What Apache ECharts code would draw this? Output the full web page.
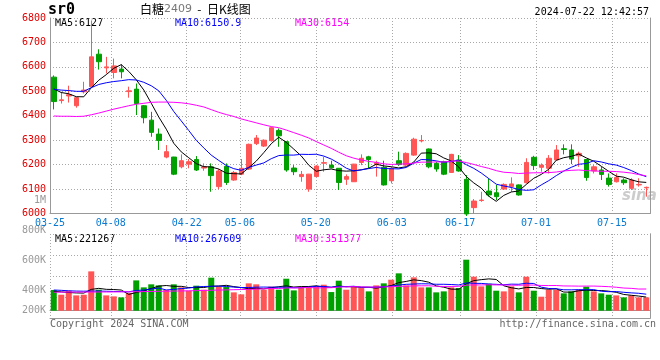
<!DOCTYPE html>
<html><head><meta charset="utf-8">
<script src="https://cdn.jsdelivr.net/npm/echarts@6/dist/echarts.min.js"></script>
<style>html,body{margin:0;padding:0;background:#fff}#c{width:660px;height:360px}</style>
</head><body><div id="c"></div>
<script>
const dates = ['03-25','03-26','03-27','03-28','03-29','04-01','04-02','04-03','04-08','04-09','04-10','04-11','04-12','04-15','04-16','04-17','04-18','04-19','04-22','04-23','04-24','04-25','04-26','04-29','04-30','05-06','05-07','05-08','05-09','05-10','05-13','05-14','05-15','05-16','05-17','05-20','05-21','05-22','05-23','05-24','05-27','05-28','05-29','05-30','05-31','06-03','06-04','06-05','06-06','06-07','06-11','06-12','06-13','06-14','06-17','06-18','06-19','06-20','06-21','06-24','06-25','06-26','06-27','06-28','07-01','07-02','07-03','07-04','07-05','07-08','07-09','07-10','07-11','07-12','07-15','07-16','07-17','07-18','07-19','07-22'];
const dateTicks = ['03-25','04-08','04-22','05-06','05-20','06-03','06-17','07-01','07-15'];

const opens = [6558,6462,6481,6441,6498,6519,6652,6596,6577,6591, 6499,6509,6441,6382,6325,6231,6231,6191,6202,6221, 6186,6191,6110,6193,6137,6161,6182,6286,6276,6298, 6340,6294,6186,6151,6100,6151,6206,6198,6185,6140, 6130,6209,6232,6202,6189,6134,6216,6198,6239,6297, 6264,6205,6212,6168,6219,6140,6024,6053,6092,6085, 6100,6110,6117,6126,6230,6189,6185,6219,6265,6260, 6236,6221,6174,6178,6145,6130,6137,6103,6117,6105];
const closes = [6458,6465,6486,6474,6505,6641,6621,6600,6604,6580, 6502,6450,6392,6332,6299,6253,6161,6216,6212,6178, 6191,6155,6174,6127,6168,6185,6283,6309,6300,6351, 6318,6178,6171,6160,6161,6194,6208,6187,6127,6151, 6202,6226,6221,6208,6117,6185,6201,6246,6304,6299, 6191,6182,6161,6242,6174,5998,6051,6055,6076,6069, 6119,6121,6076,6209,6196,6198,6226,6260,6262,6223, 6246,6147,6191,6160,6119,6147,6126,6137,6119,6107];
const highs = [6565,6498,6523,6476,6539,6790,6672,6641,6634,6610, 6519,6532,6444,6416,6348,6280,6232,6242,6223,6235, 6205,6205,6182,6205,6174,6223,6286,6321,6303,6354, 6348,6295,6198,6174,6162,6198,6232,6216,6186,6160, 6203,6242,6236,6216,6216,6191,6253,6250,6310,6321, 6266,6212,6216,6244,6239,6157,6059,6089,6144,6117, 6123,6148,6119,6226,6236,6205,6239,6280,6283,6283, 6253,6222,6198,6191,6164,6164,6144,6144,6144,6110];
const lows = [6426,6450,6454,6433,6491,6515,6589,6573,6553,6553, 6474,6403,6369,6314,6260,6226,6157,6185,6185,6174, 6175,6089,6100,6117,6134,6157,6178,6280,6272,6294, 6273,6171,6157,6130,6089,6150,6171,6185,6096,6117, 6129,6198,6185,6151,6114,6123,6195,6195,6236,6291, 6185,6171,6157,6166,6171,5990,6001,6048,6069,6055, 6096,6089,6073,6123,6178,6171,6164,6218,6242,6202, 6191,6134,6164,6137,6110,6127,6117,6096,6110,6069];

const ma5 = [6510,6495,6490,6478,6477.6,6514.2,6545.4,6568.2,6594.2,6609.2, 6581.4,6547.2,6505.6,6451.2,6395,6345.2,6287.4,6252.2,6228.2,6204, 6191.6,6190.4,6182,6165,6163,6161.8,6187.4,6214.4,6249,6285.6, 6312.2,6291.2,6263.6,6235.6,6197.6,6172.8,6178.8,6182,6175.4,6173.4, 6175,6178.6,6185.4,6201.6,6194.8,6191.4,6186.4,6191.4,6210.6,6247, 6248.2,6244.4,6227.4,6215,6190,6151.4,6125.2,6104,6070.8,6049.8, 6074,6088,6092.2,6118.8,6144.2,6160,6181,6217.8,6228.4,6233.8, 6243.4,6227.6,6213.8,6193.4,6172.6,6152.8,6148.6,6137.8,6129.6,6127.2];
const ma10 = [6508,6505,6503,6500,6500,6515,6528,6535,6540,6543.4, 6547.8,6546.3,6536.9,6522.7,6502.1,6463.3,6417.3,6378.9,6339.7,6299.5, 6268.4,6238.9,6217.1,6196.6,6183.5,6176.7,6188.9,6198.2,6207,6224.3, 6237,6239.3,6239,6242.3,6241.6,6242.5,6235,6222.8,6205.5,6185.5, 6173.9,6178.7,6183.7,6188.5,6184.1,6183.2,6182.5,6188.4,6206.1,6220.9, 6219.8,6215.4,6209.4,6212.8,6218.5,6199.8,6184.8,6165.7,6142.9,6119.9, 6112.7,6106.6,6098.1,6094.8,6097,6117,6134.5,6155,6173.6,6189, 6201.7,6204.3,6215.8,6210.9,6203.2,6198.1,6188.1,6175.8,6161.5,6150.9];
const ma30 = [6399,6398,6398,6397,6398,6404,6411,6419,6427,6434, 6441,6447,6451,6455,6456,6456,6455,6453,6449,6443, 6436,6425,6414,6405,6397,6387,6379,6371,6363,6355.7, 6351.1,6341.5,6331,6320.5,6309.1,6294.2,6280.4,6266.6,6250.7,6236.4, 6226.4,6219,6213.3,6209.1,6203.1,6200.8,6202.1,6203.1,6206.2,6210.2, 6210.2,6211.1,6210.7,6214.5,6214.7,6208.5,6200.8,6192.3,6184.8,6175.4, 6168.8,6166.9,6163.7,6165.4,6166.5,6166.7,6167.3,6169.7,6174.2,6176.6, 6178.1,6175.4,6174.4,6172.8,6172.9,6171.6,6169.1,6165.5,6159.3,6154];

const volumes = [335000,259000,324000,248000,259000,637000,340000,248000,232000,216000, 286000,491000,378000,427000,410000,335000,427000,378000,324000,405000, 340000,535000,394000,383000,297000,265000,443000,427000,340000,389000, 340000,518000,329000,378000,394000,394000,421000,302000,486000,340000, 394000,367000,313000,410000,443000,502000,605000,410000,540000,378000, 378000,297000,313000,378000,367000,826000,551000,394000,437000,324000, 313000,394000,297000,551000,324000,227000,340000,340000,281000,313000, 340000,389000,313000,281000,259000,248000,216000,248000,216000,216000];
const vma5 = [313000,305000,295000,288000,285000,345000,362000,346000,343000,335000, 264000,295000,321000,360000,398000,408000,395000,395000,375000,374000, 375000,396000,400000,411000,390000,375000,356000,363000,354000,373000, 388000,403000,383000,391000,392000,403000,383000,378000,399000,389000, 389000,378000,380000,365000,385000,407000,455000,474000,500000,487000, 462000,401000,381000,349000,347000,436000,487000,503000,515000,506000, 404000,372000,353000,376000,376000,359000,348000,356000,302000,300000, 323000,333000,327000,327000,316000,298000,263000,250000,237000,221267];
const vma10 = [335000,330000,322000,318000,316000,318000,318000,315000,312000,310000, 305000,328000,334000,351000,367000,336000,345000,358000,367000,386000, 392000,396000,398000,393000,382000,375000,376000,381000,383000,381000, 381000,380000,373000,373000,382000,395000,393000,381000,395000,390000, 396000,381000,379000,382000,387000,398000,416000,427000,432000,436000, 435000,428000,428000,424000,417000,449000,444000,442000,432000,427000, 420000,430000,428000,445000,441000,381000,360000,355000,339000,338000, 341000,340000,342000,315000,308000,310000,298000,289000,282000,267609];
const vma30 = [300000,300000,301000,301000,302000,302000,303000,303000,304000,305000, 306000,308000,310000,312000,314000,316000,318000,320000,322000,325000, 328000,331000,334000,337000,340000,343000,346000,350000,355000,359000, 359000,368000,368000,372000,377000,369000,371000,373000,382000,386000, 389000,385000,383000,383000,384000,389000,395000,396000,403000,403000, 404000,396000,393000,393000,395000,414000,418000,417000,420000,418000, 417000,413000,412000,417000,415000,409000,407000,408000,401000,400000, 398000,399000,399000,395000,389000,380000,367000,362000,351000,351377];

const UP = '#ff5555', DOWN = '#00a000';
const mono = '"DejaVu Sans Mono", monospace';
const tickIdx = dateTicks.map(d => dates.indexOf(d));
const showTick = (i) => tickIdx.indexOf(i) >= 0;
const candleData = dates.map((d, i) => [opens[i], closes[i], lows[i], highs[i]]);
const volData = volumes.map((v, i) => ({ value: v, itemStyle: { color: closes[i] >= opens[i] ? UP : DOWN } }));
const dotted = { color: '#a8a8a8', type: [1, 2], width: 1 };
const frame = { color: '#999999', width: 1 };

const chart = echarts.init(document.getElementById('c'));
chart.setOption({
  animation: false,
  backgroundColor: '#ffffff',
  grid: [
    { left: 50, right: 10, top: 18, height: 195.5 },
    { left: 50, right: 10, top: 234, height: 84 },
    { left: 50, right: 10, top: 200, height: 120.7 }
  ],
  xAxis: [
    { gridIndex: 0, type: 'category', data: dates, boundaryGap: false,
      axisLine: { lineStyle: frame }, axisTick: { show: false },
      axisLabel: { interval: (i) => showTick(i), color: '#0a7ad0', fontFamily: mono, fontSize: 10, margin: 5 },
      splitLine: { show: true, interval: (i) => showTick(i), lineStyle: dotted } },
    { gridIndex: 0, type: 'category', data: dates, boundaryGap: true, show: false },
    { gridIndex: 1, type: 'category', data: dates, boundaryGap: false,
      axisLine: { lineStyle: frame }, axisTick: { show: false }, axisLabel: { show: false },
      splitLine: { show: true, interval: (i) => showTick(i), lineStyle: dotted } },
    { gridIndex: 1, type: 'category', data: dates, boundaryGap: true, position: 'top',
      axisLine: { lineStyle: frame }, axisTick: { show: false }, axisLabel: { show: false }, splitLine: { show: false } },
    { gridIndex: 2, type: 'category', data: dates, show: false }
  ],
  yAxis: [
    { gridIndex: 0, type: 'value', min: 6000, max: 6800, interval: 100,
      axisLine: { show: true, lineStyle: frame }, axisTick: { show: false },
      axisLabel: { color: '#e00000', fontFamily: mono, fontSize: 10, margin: 4, padding: [0, 0, 3, 0], formatter: (v) => String(v) },
      splitLine: { lineStyle: dotted } },
    { gridIndex: 0, type: 'value', position: 'right', min: 0, max: 1,
      axisLine: { show: true, lineStyle: frame }, axisTick: { show: false }, axisLabel: { show: false }, splitLine: { show: false } },
    { gridIndex: 1, type: 'value', min: -118000, max: 1242000, show: false },
    { gridIndex: 1, type: 'value', min: 0, max: 4, interval: 1,
      axisLine: { show: true, lineStyle: frame }, axisTick: { show: false }, axisLabel: { show: false },
      splitLine: { lineStyle: dotted } },
    { gridIndex: 1, type: 'value', position: 'right', min: 0, max: 1,
      axisLine: { show: true, lineStyle: frame }, axisTick: { show: false }, axisLabel: { show: false }, splitLine: { show: false } },
    { gridIndex: 2, type: 'value', min: 200000, max: 1000000, interval: 200000,
      axisLine: { show: false }, axisTick: { show: false }, splitLine: { show: false },
      axisLabel: { color: '#999999', fontFamily: mono, fontSize: 10, margin: 4,
        formatter: (v) => v === 200000 ? '{lo|200K}' : (v >= 1000000 ? (v / 1000000) + 'M' : (v / 1000) + 'K'),
        rich: { lo: { color: '#999999', fontFamily: mono, fontSize: 10, padding: [0, 0, 21, 0] } } } }
  ],
  series: [
    { type: 'candlestick', xAxisIndex: 1, yAxisIndex: 0, data: candleData, barWidth: 5,
      itemStyle: { color: UP, color0: DOWN, borderColor: UP, borderColor0: DOWN, borderWidth: 1 } },
    { type: 'line', xAxisIndex: 1, yAxisIndex: 0, data: ma5, symbol: 'none', lineStyle: { color: '#000000', width: 1 } },
    { type: 'line', xAxisIndex: 1, yAxisIndex: 0, data: ma10, symbol: 'none', lineStyle: { color: '#0000ff', width: 1 } },
    { type: 'line', xAxisIndex: 1, yAxisIndex: 0, data: ma30, symbol: 'none', lineStyle: { color: '#ff00ff', width: 1 } },
    { type: 'bar', xAxisIndex: 3, yAxisIndex: 2, data: volData, barWidth: 6 },
    { type: 'line', xAxisIndex: 3, yAxisIndex: 2, data: vma5, symbol: 'none', lineStyle: { color: '#000000', width: 1 } },
    { type: 'line', xAxisIndex: 3, yAxisIndex: 2, data: vma10, symbol: 'none', lineStyle: { color: '#0000ff', width: 1 } },
    { type: 'line', xAxisIndex: 3, yAxisIndex: 2, data: vma30, symbol: 'none', lineStyle: { color: '#ff00ff', width: 1 } }
  ],
  graphic: [
    { type: 'text', x: 48, y: 3, style: { text: 'sr0', font: 'bold 15px "DejaVu Sans Mono"', fill: '#000' } },
    { type: 'text', x: 140, y: 9, style: { text: '{a|白糖}{b|2409}{a|  -  日K线图}', verticalAlign: 'middle',
        rich: { a: { font: '12px "Noto Sans CJK SC"', fill: '#000' }, b: { font: '11px "DejaVu Sans"', fill: '#777' } } } },
    { type: 'text', x: 649, y: 12, style: { text: '2024-07-22 12:42:57', font: '10px "DejaVu Sans Mono"', fill: '#000', align: 'right', verticalAlign: 'middle' } },
    { type: 'text', x: 55, y: 23, style: { text: 'MA5:6127', font: '10px "DejaVu Sans Mono"', fill: '#000', verticalAlign: 'middle' } },
    { type: 'text', x: 175, y: 23, style: { text: 'MA10:6150.9', font: '10px "DejaVu Sans Mono"', fill: '#0000ff', verticalAlign: 'middle' } },
    { type: 'text', x: 295, y: 23, style: { text: 'MA30:6154', font: '10px "DejaVu Sans Mono"', fill: '#ff00ff', verticalAlign: 'middle' } },
    { type: 'text', x: 55, y: 239, style: { text: 'MA5:221267', font: '10px "DejaVu Sans Mono"', fill: '#000', verticalAlign: 'middle' } },
    { type: 'text', x: 175, y: 239, style: { text: 'MA10:267609', font: '10px "DejaVu Sans Mono"', fill: '#0000ff', verticalAlign: 'middle' } },
    { type: 'text', x: 295, y: 239, style: { text: 'MA30:351377', font: '10px "DejaVu Sans Mono"', fill: '#ff00ff', verticalAlign: 'middle' } },
    { type: 'text', x: 50, y: 324, style: { text: 'Copyright 2024 SINA.COM', font: '10px "DejaVu Sans Mono"', fill: '#666', verticalAlign: 'middle' } },
    { type: 'text', x: 656, y: 324, style: { text: 'http://finance.sina.com.cn', font: '10px "DejaVu Sans Mono"', fill: '#666', align: 'right', verticalAlign: 'middle' } },
    { type: 'text', x: 622, y: 189, style: { text: 'sina', font: 'italic bold 15px "DejaVu Sans"', fill: '#cccccc' } }
  ]
});
</script>
</body></html>
